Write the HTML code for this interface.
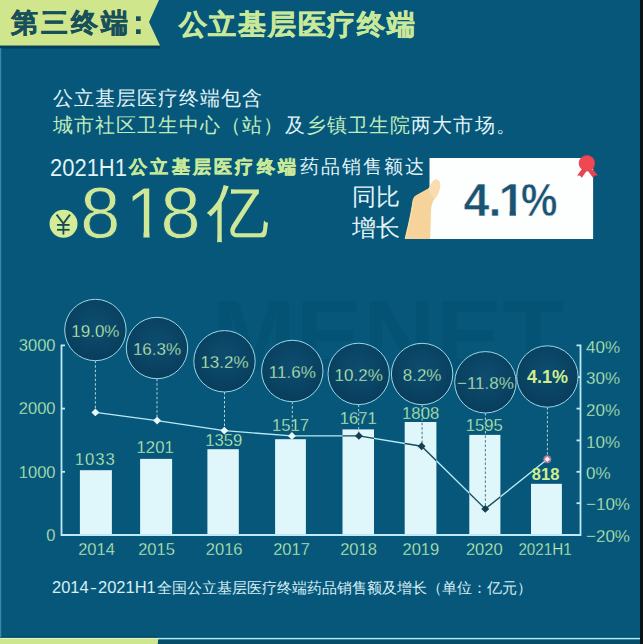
<!DOCTYPE html>
<html><head><meta charset="utf-8">
<style>
html,body{margin:0;padding:0;}
body{width:643px;height:644px;overflow:hidden;background:#06577a;position:relative;font-family:"Liberation Sans",sans-serif;}
.t{position:absolute;white-space:nowrap;line-height:1;}
.j{display:inline-block;text-align:justify;text-align-last:justify;}
svg{position:absolute;left:0;top:0;}
</style></head>
<body>
<svg width="643" height="644" viewBox="0 0 643 644">
<defs>
<radialGradient id="cg" cx="50%" cy="42%" r="58%">
<stop offset="0%" stop-color="#0d4d70"/><stop offset="60%" stop-color="#0a4464"/><stop offset="100%" stop-color="#093d5c"/>
</radialGradient>
<clipPath id="bars"><rect x="79.9" y="470.2" width="32" height="64.8"/><rect x="140.1" y="458.9" width="32" height="76.1"/><rect x="207.4" y="449.2" width="31.4" height="85.8"/><rect x="275.1" y="439.2" width="30.8" height="95.8"/><rect x="342.5" y="429.4" width="31.5" height="105.6"/><rect x="404.7" y="422" width="31.7" height="113"/><rect x="469.3" y="434.9" width="31.1" height="100.1"/><rect x="531" y="483.8" width="30.9" height="51.2"/></clipPath>
</defs>
<rect x="640" y="0" width="3" height="644" fill="#0b1216"/>
<rect x="0" y="45.5" width="160" height="3" fill="#063f5c"/>
<polygon points="0,0 159,0 149,22 160,45.5 0,45.5" fill="#cfe68c"/>
<rect x="136" y="16.3" width="4.7" height="4.7" fill="#17505a"/><rect x="136" y="29.3" width="4.7" height="4.7" fill="#17505a"/>
<rect x="0" y="636.3" width="640" height="1.6" fill="#064c68"/>
<rect x="0" y="48" width="1.2" height="589" fill="#3a88aa"/>
<polygon points="0,637.9 159.2,637.9 157.6,644 0,644" fill="#cde78e"/>
<rect x="0" y="637.9" width="158.5" height="0.9" fill="#e0f5d0"/>
<rect x="158" y="637.8" width="482" height="1.8" fill="#a4ecf6"/>
<rect x="158" y="639.6" width="482" height="4.4" fill="#074e6a"/>
<text x="212" y="370" font-family="Liberation Sans" font-weight="bold" font-size="100" fill="#000000" fill-opacity="0.045" textLength="352" lengthAdjust="spacingAndGlyphs">MENET</text>
<rect x="429.5" y="158" width="163.6" height="81" fill="#fdfefe"/>
<path d="M404.7,239 C407,228 410,218 412.5,201 Q413.2,196.5 416.5,195 L428.6,188.2 L432,182.5 Q434,179 436.5,179.6 Q440.5,181 440.2,186 Q439.5,193 434.5,199 Q431.5,203 431,210 L430.2,239 Z" fill="#f7d39c"/>
<path d="M428.8,188.4 L432,182.5 Q434,179 436.5,179.6 Q440.5,181 440.2,186 Q439.5,193 434.5,199 Q431,196 428.8,190 Z" fill="#f9ddb0"/>
<path d="M405.5,238.6 C408,228 411,218 413.3,201" stroke="#f2e6a0" stroke-width="1" fill="none"/>
<polygon points="581.5,169.5 577.2,175.5 580.2,175.8 581.8,177.8 586.5,171" fill="#e8434e"/>
<polygon points="588,171 593,177.8 594.8,175.6 598,175.5 593,169.5" fill="#e8434e"/>
<circle cx="587" cy="163.2" r="7.8" fill="#f04852" stroke="#cf3a44" stroke-width="0.8"/>
<g fill="#dff7fb"><rect x="79.9" y="470.2" width="32" height="64.8"/><rect x="140.1" y="458.9" width="32" height="76.1"/><rect x="207.4" y="449.2" width="31.4" height="85.8"/><rect x="275.1" y="439.2" width="30.8" height="95.8"/><rect x="342.5" y="429.4" width="31.5" height="105.6"/><rect x="404.7" y="422" width="31.7" height="113"/><rect x="469.3" y="434.9" width="31.1" height="100.1"/><rect x="531" y="483.8" width="30.9" height="51.2"/></g>
<g stroke="#bfeaf4" stroke-width="1.8" fill="none"><polyline points="65,345.4 61.5,345.4 61.5,535.0 580.5,535.0 580.5,345.4 576.5,345.4"/><line x1="61.5" y1="408.6" x2="65" y2="408.6"/><line x1="61.5" y1="471.8" x2="65" y2="471.8"/><line x1="580.5" y1="377.1" x2="576.5" y2="377.1"/><line x1="580.5" y1="408.6" x2="576.5" y2="408.6"/><line x1="580.5" y1="440.4" x2="576.5" y2="440.4"/><line x1="580.5" y1="471.8" x2="576.5" y2="471.8"/><line x1="580.5" y1="503.2" x2="576.5" y2="503.2"/></g>
<g stroke="#a9d6e0" stroke-width="1" stroke-dasharray="2.5,2"><line x1="95.4" y1="360.7" x2="95.4" y2="412.4"/><line x1="157" y1="378.7" x2="157" y2="420.6"/><line x1="224.5" y1="392" x2="224.5" y2="430.6"/><line x1="292.3" y1="401.7" x2="292.3" y2="435.9"/><line x1="358.7" y1="404.6" x2="358.7" y2="435.9"/><line x1="422.1" y1="404.7" x2="422.1" y2="446.2"/><line x1="485.4" y1="413" x2="485.4" y2="508.9"/><line x1="547.4" y1="407.2" x2="547.4" y2="459.2"/></g>
<g clip-path="url(#bars)" stroke="#5f7f8a" stroke-width="1" stroke-dasharray="2.5,2"><line x1="95.4" y1="360.7" x2="95.4" y2="412.4"/><line x1="157" y1="378.7" x2="157" y2="420.6"/><line x1="224.5" y1="392" x2="224.5" y2="430.6"/><line x1="292.3" y1="401.7" x2="292.3" y2="435.9"/><line x1="358.7" y1="404.6" x2="358.7" y2="435.9"/><line x1="422.1" y1="404.7" x2="422.1" y2="446.2"/><line x1="485.4" y1="413" x2="485.4" y2="508.9"/><line x1="547.4" y1="407.2" x2="547.4" y2="459.2"/></g>
<polyline points="95.4,412.4 157.1,420.6 224.3,430.6 291.9,435.9 358.9,435.9 421.6,446.2 485.3,508.9 547.3,459.2" fill="none" stroke="#b8eaf6" stroke-width="1.4"/>
<g clip-path="url(#bars)"><polyline points="95.4,412.4 157.1,420.6 224.3,430.6 291.9,435.9 358.9,435.9 421.6,446.2 485.3,508.9 547.3,459.2" fill="none" stroke="#1f4d5e" stroke-width="1.4"/></g>
<rect x="-2.8" y="-2.8" width="5.6" height="5.6" fill="#e8f8fb" transform="translate(95.4,412.4) rotate(45)"/>
<rect x="-2.8" y="-2.8" width="5.6" height="5.6" fill="#e8f8fb" transform="translate(157.1,420.6) rotate(45)"/>
<rect x="-2.8" y="-2.8" width="5.6" height="5.6" fill="#e8f8fb" transform="translate(224.3,430.6) rotate(45)"/>
<rect x="-2.8" y="-2.8" width="5.6" height="5.6" fill="#e8f8fb" transform="translate(291.9,435.9) rotate(45)"/>
<rect x="-2.8" y="-2.8" width="5.6" height="5.6" fill="#173f52" transform="translate(358.9,435.9) rotate(45)"/>
<rect x="-2.8" y="-2.8" width="5.6" height="5.6" fill="#173f52" transform="translate(421.6,446.2) rotate(45)"/>
<rect x="-2.8" y="-2.8" width="5.6" height="5.6" fill="#173f52" transform="translate(485.3,508.9) rotate(45)"/>
<circle cx="547.3" cy="459.2" r="4" fill="#f4a0b0" fill-opacity="0.55"/>
<rect x="-2.2" y="-2.2" width="4.4" height="4.4" fill="#fff4f6" stroke="#e8708a" stroke-width="0.8" transform="translate(547.3,459.2) rotate(45)"/>
<g fill="url(#cg)" stroke="#9ad8e8" stroke-width="1"><circle cx="95.4" cy="330" r="30.7"/><circle cx="157" cy="348" r="30.7"/><circle cx="224.5" cy="361.3" r="30.7"/><circle cx="292.3" cy="371" r="30.7"/><circle cx="358.7" cy="373.9" r="30.7"/><circle cx="422.1" cy="374" r="30.7"/><circle cx="485.4" cy="382.3" r="30.7"/><circle cx="547.4" cy="376.5" r="30.7"/></g>
<circle cx="63.5" cy="223.8" r="14" fill="#d4eb98"/>
<g stroke="#174a52" stroke-width="1.8" fill="none"><polyline points="56.6,214.6 63.4,223.6 70,214.6"/><line x1="63.4" y1="223.6" x2="63.4" y2="234.6"/><line x1="57" y1="224.9" x2="69.6" y2="224.9"/><line x1="57" y1="229.8" x2="69.6" y2="229.8"/></g>
</svg>
<div class="t" style="left:11px;top:10px;font-size:27px;color:#17505a;letter-spacing:3px;font-weight:bold;-webkit-text-stroke:0.5px #17505a;"><span class="j" style="width:120px">第三终端</span></div>
<div class="t" style="left:178.5px;top:10.5px;font-size:28px;color:#c8e89a;letter-spacing:1.8px;font-weight:bold;-webkit-text-stroke:0.5px #c8e89a;"><span class="j" style="width:238.41px">公立基层医疗终端</span></div>
<div class="t" style="left:52.5px;top:88px;font-size:20px;color:#e2f3f6;letter-spacing:1px;"><span class="j" style="width:210px">公立基层医疗终端包含</span></div>
<div class="t" style="left:52.5px;top:114.5px;font-size:20px;color:#e2f3f6;letter-spacing:1.1px;"><span class="j" style="width:464.22px"><span style="color:#c0ecbc">城市社区卫生中心（站）</span>及<span style="color:#c0ecbc">乡镇卫生院</span>两大市场。</span></div>
<div class="t" style="left:50px;top:157px;font-size:23px;color:#e2f3f6;transform-origin:0 0;transform:scaleX(0.955);">2021H1</div>
<div class="t" style="left:129px;top:158px;font-size:18px;color:#c8e89a;letter-spacing:3.3px;font-weight:bold;-webkit-text-stroke:0.5px #c8e89a;"><span class="j" style="width:170.41px">公立基层医疗终端</span></div>
<div class="t" style="left:299.5px;top:158px;font-size:18.5px;color:#e2f3f6;letter-spacing:2px;"><span class="j" style="width:126px">药品销售额达</span></div>
<div class="t" style="left:80.17px;top:177px;font-size:72px;color:#cfe898;-webkit-text-stroke:0.8px #06577a;">8</div>
<div class="t" style="left:125.2px;top:177px;font-size:72px;color:#cfe898;-webkit-text-stroke:0.8px #06577a;clip-path:polygon(-20px -20px,60px -20px,60px 54.4px,24.3px 54.4px,24.3px 90px,18.3px 90px,18.3px 54.4px,-20px 54.4px);">1</div>
<div class="t" style="left:160.47px;top:177px;font-size:72px;color:#cfe898;-webkit-text-stroke:0.8px #06577a;">8</div>
<div class="t" style="left:207px;top:181.5px;font-size:62px;color:#cfe898;">亿</div>
<div class="t" style="left:352px;top:186px;font-size:23.5px;color:#e2f3f6;"><span class="j" style="width:48px">同比</span></div>
<div class="t" style="left:352px;top:217px;font-size:23.5px;color:#e2f3f6;"><span class="j" style="width:48px">增长</span></div>
<div class="t" style="left:463.45px;top:177.13px;font-size:46.5px;color:#1b5372;font-weight:bold;-webkit-text-stroke:0.5px #fdfefe;">4</div>
<div class="t" style="left:488.4px;top:177.13px;font-size:46.5px;color:#1b5372;font-weight:bold;-webkit-text-stroke:0.5px #fdfefe;">.</div>
<div class="t" style="left:498.7px;top:177.13px;font-size:46.5px;color:#1b5372;font-weight:bold;-webkit-text-stroke:0.5px #fdfefe;clip-path:polygon(-20px -20px,60px -20px,60px 33.7px,17.2px 33.7px,17.2px 70px,10.9px 70px,10.9px 33.7px,-20px 33.7px);">1</div>
<div class="t" style="left:521.33px;top:177.13px;font-size:46.5px;color:#1b5372;font-weight:bold;-webkit-text-stroke:0.5px #fdfefe;transform-origin:0 0;transform:scaleX(0.88);">%</div>
<div class="t" style="left:0px;top:337.11px;font-size:16.5px;color:#c2f4b8;width:55.5px;text-align:right;-webkit-text-stroke:0.3px #06577a;">3000</div>
<div class="t" style="left:0px;top:400.31px;font-size:16.5px;color:#c2f4b8;width:55.5px;text-align:right;-webkit-text-stroke:0.3px #06577a;">2000</div>
<div class="t" style="left:0px;top:463.51px;font-size:16.5px;color:#c2f4b8;width:55.5px;text-align:right;-webkit-text-stroke:0.3px #06577a;">1000</div>
<div class="t" style="left:0px;top:526.71px;font-size:16.5px;color:#c2f4b8;width:55.5px;text-align:right;-webkit-text-stroke:0.3px #06577a;">0</div>
<div class="t" style="left:586px;top:338.65px;font-size:17px;color:#c2f4b8;-webkit-text-stroke:0.3px #06577a;">40%</div>
<div class="t" style="left:586px;top:370.35px;font-size:17px;color:#c2f4b8;-webkit-text-stroke:0.3px #06577a;">30%</div>
<div class="t" style="left:586px;top:401.85px;font-size:17px;color:#c2f4b8;-webkit-text-stroke:0.3px #06577a;">20%</div>
<div class="t" style="left:586px;top:433.65px;font-size:17px;color:#c2f4b8;-webkit-text-stroke:0.3px #06577a;">10%</div>
<div class="t" style="left:586px;top:465.05px;font-size:17px;color:#c2f4b8;-webkit-text-stroke:0.3px #06577a;">0%</div>
<div class="t" style="left:586px;top:496.45px;font-size:17px;color:#c2f4b8;-webkit-text-stroke:0.3px #06577a;">−10%</div>
<div class="t" style="left:586px;top:528.25px;font-size:17px;color:#c2f4b8;-webkit-text-stroke:0.3px #06577a;">−20%</div>
<div class="t" style="left:56.5px;top:540.63px;font-size:16.5px;color:#c2f4b8;width:80px;text-align:center;-webkit-text-stroke:0.3px #06577a;">2014</div>
<div class="t" style="left:116.5px;top:540.63px;font-size:16.5px;color:#c2f4b8;width:80px;text-align:center;-webkit-text-stroke:0.3px #06577a;">2015</div>
<div class="t" style="left:184.15px;top:540.63px;font-size:16.5px;color:#c2f4b8;width:80px;text-align:center;-webkit-text-stroke:0.3px #06577a;">2016</div>
<div class="t" style="left:251.5px;top:540.63px;font-size:16.5px;color:#c2f4b8;width:80px;text-align:center;-webkit-text-stroke:0.3px #06577a;">2017</div>
<div class="t" style="left:318.5px;top:540.63px;font-size:16.5px;color:#c2f4b8;width:80px;text-align:center;-webkit-text-stroke:0.3px #06577a;">2018</div>
<div class="t" style="left:380.85px;top:540.63px;font-size:16.5px;color:#c2f4b8;width:80px;text-align:center;-webkit-text-stroke:0.3px #06577a;">2019</div>
<div class="t" style="left:444.25px;top:540.63px;font-size:16.5px;color:#c2f4b8;width:80px;text-align:center;-webkit-text-stroke:0.3px #06577a;">2020</div>
<div class="t" style="left:505.2px;top:540.63px;font-size:16.5px;color:#c2f4b8;width:80px;text-align:center;-webkit-text-stroke:0.3px #06577a;transform:scaleX(0.92);">2021H1</div>
<div class="t" style="left:55.3px;top:451.56px;font-size:16.7px;color:#c2f4b8;width:80px;text-align:center;letter-spacing:1px;-webkit-text-stroke:0.3px #06577a;">1033</div>
<div class="t" style="left:115.15px;top:440.46px;font-size:16.7px;color:#c2f4b8;width:80px;text-align:center;-webkit-text-stroke:0.3px #06577a;">1201</div>
<div class="t" style="left:183.8px;top:433.16px;font-size:16.7px;color:#c2f4b8;width:80px;text-align:center;-webkit-text-stroke:0.3px #06577a;">1359</div>
<div class="t" style="left:250.55px;top:418.36px;font-size:16.7px;color:#c2f4b8;width:80px;text-align:center;-webkit-text-stroke:0.3px #06577a;">1517</div>
<div class="t" style="left:318.2px;top:411.36px;font-size:16.7px;color:#c2f4b8;width:80px;text-align:center;-webkit-text-stroke:0.3px #06577a;">1671</div>
<div class="t" style="left:380.65px;top:406.36px;font-size:16.7px;color:#c2f4b8;width:80px;text-align:center;-webkit-text-stroke:0.3px #06577a;">1808</div>
<div class="t" style="left:444.35px;top:417.56px;font-size:16.7px;color:#c2f4b8;width:80px;text-align:center;-webkit-text-stroke:0.3px #06577a;">1595</div>
<div class="t" style="left:505.55px;top:466.03px;font-size:16.5px;color:#cfee90;width:80px;text-align:center;font-weight:bold;">818</div>
<div class="t" style="left:55.4px;top:322.95px;font-size:17px;color:#c2f4b8;width:80px;text-align:center;-webkit-text-stroke:0.3px #0b4566;">19.0%</div>
<div class="t" style="left:117px;top:340.95px;font-size:17px;color:#c2f4b8;width:80px;text-align:center;-webkit-text-stroke:0.3px #0b4566;">16.3%</div>
<div class="t" style="left:184.5px;top:354.25px;font-size:17px;color:#c2f4b8;width:80px;text-align:center;-webkit-text-stroke:0.3px #0b4566;">13.2%</div>
<div class="t" style="left:252.3px;top:363.95px;font-size:17px;color:#c2f4b8;width:80px;text-align:center;-webkit-text-stroke:0.3px #0b4566;">11.6%</div>
<div class="t" style="left:318.7px;top:366.85px;font-size:17px;color:#c2f4b8;width:80px;text-align:center;-webkit-text-stroke:0.3px #0b4566;">10.2%</div>
<div class="t" style="left:382.1px;top:366.95px;font-size:17px;color:#c2f4b8;width:80px;text-align:center;-webkit-text-stroke:0.3px #0b4566;">8.2%</div>
<div class="t" style="left:445.4px;top:375.25px;font-size:17px;color:#c2f4b8;width:80px;text-align:center;-webkit-text-stroke:0.3px #0b4566;">−11.8%</div>
<div class="t" style="left:507.4px;top:368.35px;font-size:18px;color:#cfee90;width:80px;text-align:center;font-weight:bold;">4.1%</div>
<div class="t" style="left:52px;top:579px;font-size:16.5px;color:#d8eef5;">2014</div>
<div class="t" style="left:89.5px;top:579px;font-size:16.5px;color:#d8eef5;transform-origin:0 0;transform:scaleX(1.25);">-</div>
<div class="t" style="left:98px;top:579px;font-size:16.5px;color:#d8eef5;">2021H1</div>
<div class="t" style="left:156.5px;top:580px;font-size:15px;color:#d8eef5;"><span class="j" style="width:375px">全国公立基层医疗终端药品销售额及增长（单位：亿元）</span></div>
</body></html>
